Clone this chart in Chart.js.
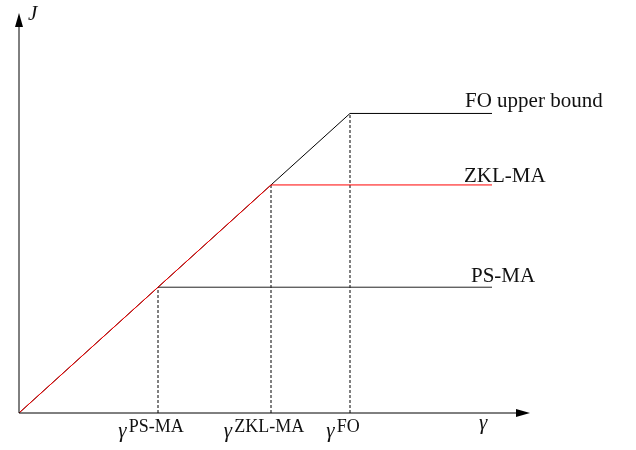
<!DOCTYPE html>
<html>
<head>
<meta charset="utf-8">
<script src="https://cdn.jsdelivr.net/npm/chart.js@4/dist/chart.umd.min.js"></script>
<style>
  html, body { margin: 0; padding: 0; background: #ffffff; }
  #wrap { width: 636px; height: 450px; }
</style>
</head>
<body>
<div id="wrap"><canvas id="c" width="636" height="450"></canvas></div>
<script>
// Threshold rates where each scheme saturates (gamma) and the plateau level of J
const schemeNames = ['PS-MA', 'ZKL-MA', 'FO'];
const gammaThreshold = [1.39, 2.52, 3.31];
const plateauJ = [1.39, 2.52, 3.31];
const curveLabels = ['PS-MA', 'ZKL-MA', 'FO upper bound'];
const gammaEnd = 4.73;
const gammaAxisMax = 5.11;
const jAxisMax = 4.42;

const SERIF = '"Liberation Serif", "Times New Roman", serif';

// Curves: FO upper bound (black), ZKL-MA (red), PS-MA plateau (black)
const foCurve = [{x: 0, y: 0}, {x: gammaThreshold[2], y: plateauJ[2]}, {x: gammaEnd, y: plateauJ[2]}];
const zklCurve = [{x: 0, y: 0}, {x: gammaThreshold[1], y: plateauJ[1]}, {x: gammaEnd, y: plateauJ[1]}];
const psCurve = [{x: gammaThreshold[0], y: plateauJ[0]}, {x: gammaEnd, y: plateauJ[0]}];

const solid = (data, color, order) => ({
  data, borderColor: color, borderWidth: 1, showLine: true,
  pointRadius: 0, fill: false, tension: 0, order
});

const dropLines = gammaThreshold.map((g, i) => ({
  data: [{x: g, y: 0}, {x: g, y: plateauJ[i]}],
  borderColor: '#000000', borderWidth: 1, borderDash: [3, 2],
  showLine: true, pointRadius: 0, fill: false, order: 3
}));

// Axes with arrowheads, axis symbols and text labels
const annotations = {
  id: 'annotations',
  afterDatasetsDraw(chart) {
    const ctx = chart.ctx;
    const xs = chart.scales.x, ys = chart.scales.y;
    const x0 = Math.round(xs.getPixelForValue(0));
    const y0 = Math.round(ys.getPixelForValue(0));
    const xTip = xs.getPixelForValue(gammaAxisMax);
    const yTip = ys.getPixelForValue(jAxisMax);
    ctx.save();
    ctx.strokeStyle = '#000000';
    ctx.lineWidth = 1;
    ctx.beginPath();
    ctx.moveTo(x0, y0);
    ctx.lineTo(xTip - 10, y0);
    ctx.moveTo(x0, y0);
    ctx.lineTo(x0, yTip + 10);
    ctx.stroke();
    ctx.fillStyle = '#000000';
    ctx.beginPath();
    ctx.moveTo(xTip, y0);
    ctx.lineTo(xTip - 14, y0 - 4);
    ctx.lineTo(xTip - 14, y0 + 4);
    ctx.closePath();
    ctx.fill();
    ctx.beginPath();
    ctx.moveTo(x0, yTip);
    ctx.lineTo(x0 - 4, yTip + 14);
    ctx.lineTo(x0 + 4, yTip + 14);
    ctx.closePath();
    ctx.fill();

    ctx.fillStyle = '#111111';
    ctx.textBaseline = 'alphabetic';
    ctx.textAlign = 'left';

    // axis symbols
    ctx.font = 'italic 21px ' + SERIF;
    ctx.fillText('J', x0 + 9, yTip + 7);
    ctx.font = 'italic 21px ' + SERIF;
    ctx.fillText('\u03B3', xs.getPixelForValue(gammaEnd) - 13, y0 + 16);

    // threshold labels gamma^{scheme}
    gammaThreshold.forEach((g, i) => {
      const px = xs.getPixelForValue(g);
      ctx.font = 'italic 21px ' + SERIF;
      const wg = ctx.measureText('\u03B3').width;
      ctx.font = '18px ' + SERIF;
      const ws = ctx.measureText(schemeNames[i]).width;
      const left = px - 7 - (wg + 2 + ws) / 2;
      ctx.font = 'italic 21px ' + SERIF;
      ctx.fillText('\u03B3', left, y0 + 24);
      ctx.font = '18px ' + SERIF;
      ctx.fillText(schemeNames[i], left + wg + 2, y0 + 19);
    });

    // curve labels above line ends
    ctx.font = '21px ' + SERIF;
    const xEnd = xs.getPixelForValue(gammaEnd);
    const offs = [[-21, -5], [-28, -3], [-27, -6]];
    curveLabels.forEach((t, i) => {
      const py = ys.getPixelForValue(plateauJ[i]);
      ctx.fillText(t, xEnd + offs[i][0], py + offs[i][1]);
    });
    ctx.restore();
  }
};

new Chart(document.getElementById('c'), {
  type: 'scatter',
  data: {
    datasets: [
      solid(zklCurve, '#ff0000', 0),
      solid(foCurve, '#000000', 1),
      solid(psCurve, '#222222', 1),
      ...dropLines
    ]
  },
  options: {
    responsive: false,
    animation: false,
    events: [],
    layout: { padding: { left: 19, right: 106, top: 13, bottom: 37 } },
    plugins: { legend: { display: false }, tooltip: { enabled: false } },
    scales: {
      x: { type: 'linear', min: 0, max: gammaAxisMax, display: false },
      y: { type: 'linear', min: 0, max: jAxisMax, display: false }
    }
  },
  plugins: [annotations]
});
</script>
</body>
</html>
